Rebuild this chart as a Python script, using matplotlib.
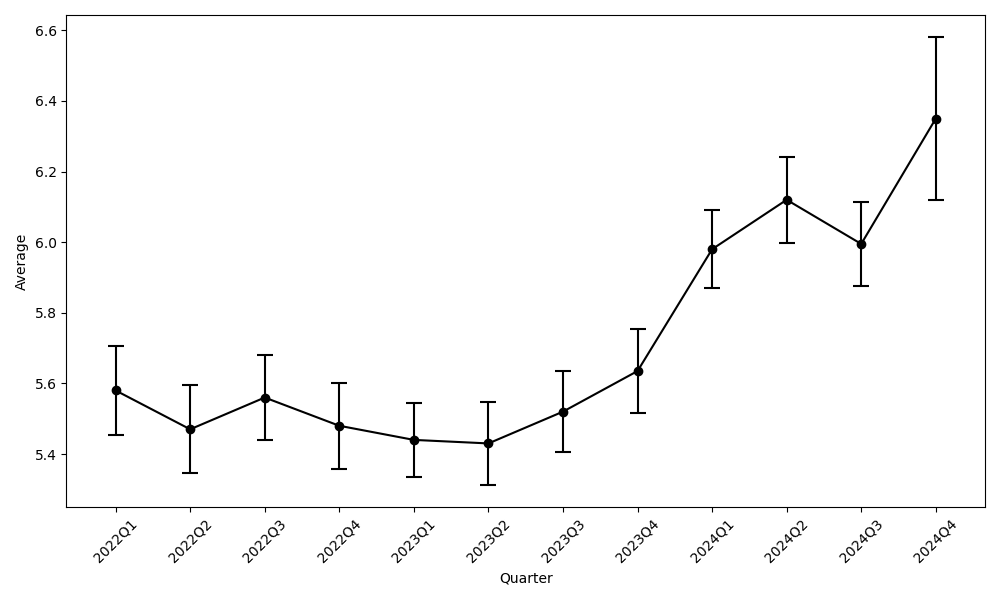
import matplotlib
matplotlib.use("Agg")
import matplotlib.pyplot as plt

quarters = ["2022Q1", "2022Q2", "2022Q3", "2022Q4",
            "2023Q1", "2023Q2", "2023Q3", "2023Q4",
            "2024Q1", "2024Q2", "2024Q3", "2024Q4"]
averages = [5.58, 5.47, 5.56, 5.48, 5.44, 5.43, 5.52, 5.635, 5.98, 6.12, 5.995, 6.35]
errors = [0.125, 0.125, 0.12, 0.122, 0.105, 0.117, 0.115, 0.12, 0.11, 0.122, 0.119, 0.23]

fig, ax = plt.subplots(figsize=(10, 6), dpi=100)

ax.errorbar(quarters, averages, yerr=errors, fmt="-o", color="black",
            ecolor="black", capsize=6, capthick=1.5, linewidth=1.5, markersize=6)

ax.margins(x=0.06)
ax.set_xlabel("Quarter")
ax.set_ylabel("Average")
plt.xticks(rotation=45)

plt.tight_layout()
plt.savefig("out.png", dpi=100)
